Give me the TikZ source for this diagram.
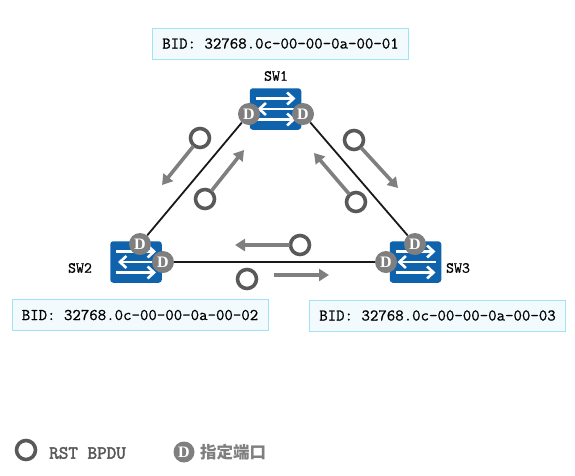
\documentclass[tikz,border=0pt]{standalone}
\usepackage{fontspec}
\newfontfamily\cjkfont{Noto Sans CJK SC}
\newfontfamily\dfont{Liberation Serif}
\setmonofont[AutoFakeBold=0.7]{Latin Modern Mono}
\newfontfamily\legendmono[AutoFakeBold=2.5]{Latin Modern Mono}
\usetikzlibrary{arrows.meta}
\definecolor{swblue}{HTML}{0F62AC}
\definecolor{portgray}{HTML}{7F7F7F}
\definecolor{ringgray}{HTML}{595959}
\definecolor{boxline}{HTML}{A0E2F6}
\definecolor{boxfill}{HTML}{F3FAFE}
\tikzset{
  swbox/.style={draw=none,fill=swblue,rounded corners=3pt,minimum width=51.5pt,minimum height=41.5pt,inner sep=0pt},
  swarrow/.style={draw=white,line width=2.6pt,-{Straight Barb[length=6.5pt,width=12pt,line width=2.6pt]}},
  port/.style={circle,fill=portgray,draw=none,minimum size=22pt,inner sep=0pt,text=white,font=\fontsize{16}{16}\selectfont\dfont\bfseries},
  link/.style={draw=black!90,line width=1.8pt},
  bidbox/.style={draw=boxline,fill=boxfill,line width=1pt,minimum width=256pt,minimum height=31pt,inner sep=0pt,font=\fontsize{16.4}{17}\selectfont\ttfamily\bfseries,text=black},
  swlabel/.style={font=\fontsize{15.5}{16}\selectfont\ttfamily\bfseries,text=black,inner sep=0pt},
  ring/.style={circle,draw=ringgray,line width=3.6pt,fill=white,minimum size=19pt,inner sep=0pt},
  flow/.style={draw=portgray,line width=3.6pt,-{Triangle[length=10pt,width=12pt]},shorten <=-1pt},
  swglyph/.pic={
    \draw[swarrow] (-20,-10.5) -- (20,-10.5);
    \draw[swarrow] (20,0) -- (-18,0);
    \draw[swarrow] (-20,10.5) -- (20,10.5);
  }
}
\begin{document}
\begin{tikzpicture}[x=1pt,y=-1pt]
\useasboundingbox (0,0) rectangle (575,475);
% switches
\node[swbox] (sw1) at (275.5,109) {};
\node[swbox] (sw2) at (136,262) {};
\node[swbox] (sw3) at (415.5,262) {};
\pic at (sw1) {swglyph};
\pic at (sw2) {swglyph};
\pic at (sw3) {swglyph};
% ports
\node[port] (p1l) at (249,114) {D};
\node[port] (p1r) at (303,114) {D};
\node[port] (p2t) at (140,244) {D};
\node[port] (p2r) at (163,262) {D};
\node[port] (p3t) at (415,244) {D};
\node[port] (p3l) at (386,262) {D};
% links
\draw[link] (p1l) -- (p2t);
\draw[link] (p1r) -- (p3t);
\draw[link] (p2r) -- (p3l);
% labels
\node[swlabel] (l1) at (276,76) {SW1};
\node[swlabel] (l2) at (80,268) {SW2};
\node[swlabel] (l3) at (458,268) {SW3};
\node[bidbox] (b1) at (280.5,43.5) {BID: 32768.0c-00-00-0a-00-01};
\node[bidbox] (b2) at (140,315) {BID: 32768.0c-00-00-0a-00-02};
\node[bidbox] (b3) at (437.5,315.5) {BID: 32768.0c-00-00-0a-00-03};
% BPDU rings and arrows
\node[ring] (r1) at (200,138) {};
\node[ring] (r2) at (205,199) {};
\node[ring] (r3) at (354,140) {};
\node[ring] (r4) at (356,202) {};
\node[ring] (r5) at (300,245) {};
\node[ring] (r6) at (247,279) {};
\coordinate (t1) at (162,185);
\coordinate (t2) at (244,150);
\coordinate (t3) at (398,188);
\coordinate (t4) at (314,153);
\coordinate (t5) at (235,245);
\coordinate (s6) at (275,275);
\coordinate (t6) at (329,275);
\draw[flow] (r1) -- (t1);
\draw[flow] (r2) -- (t2);
\draw[flow] (r3) -- (t3);
\draw[flow] (r4) -- (t4);
\draw[flow] (r5) -- (t5);
\draw[flow] (s6) -- (t6);
% legend
\node[ring] (lr) at (26,450) {};
\node[anchor=west,inner sep=0pt,text=ringgray,font=\fontsize{18.6}{19}\selectfont\legendmono\bfseries] (lt1) at (49,453) {RST BPDU};
\node[port,minimum size=21pt] (lp) at (184,452) {D};
\node[anchor=west,inner sep=0pt,text=portgray,font=\fontsize{16.5}{17}\selectfont\cjkfont\bfseries] (lt2) at (200,452) {指定端口};
\end{tikzpicture}
\end{document}
